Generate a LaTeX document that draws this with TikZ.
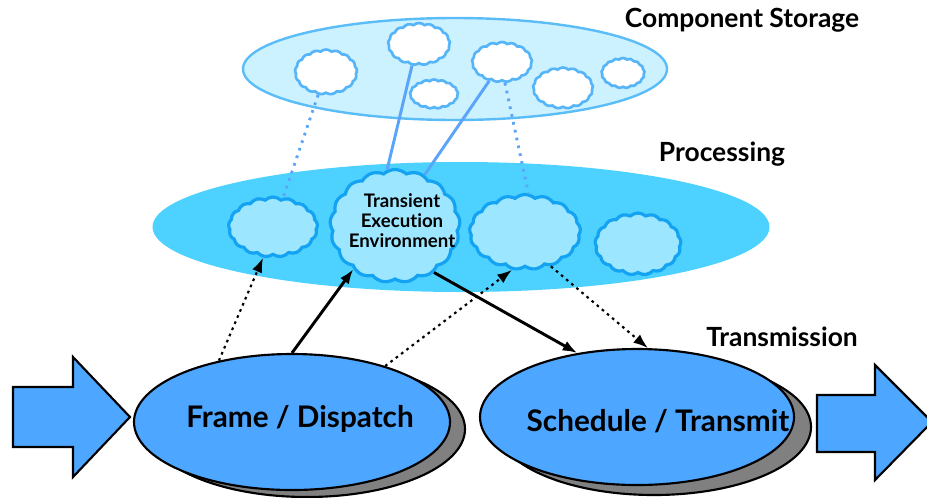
\documentclass[tikz,border=0pt]{standalone}
\usepackage{fontspec}
\setmainfont{Lato}[Ligatures={NoCommon}]
\usetikzlibrary{shapes.symbols,shapes.geometric,arrows.meta}
\definecolor{storfill}{HTML}{CCF1FF}
\definecolor{storline}{HTML}{5BBDF7}
\definecolor{sclline}{HTML}{55B5F8}
\definecolor{procfill}{HTML}{4DD2FF}
\definecolor{pclfill}{HTML}{9DE6FF}
\definecolor{pclline}{HTML}{14A3F2}
\definecolor{linkblue}{HTML}{5AA5FA}
\definecolor{bigfill}{HTML}{4DA6FF}
\definecolor{shadowgray}{HTML}{808080}
\tikzset{
  cloudbase/.style={cloud, cloud puffs=17, cloud puff arc=85, cloud ignores aspect, inner sep=0pt},
  scloud/.style={cloudbase, draw=sclline, fill=white, line width=2pt},
  pcloud/.style={cloudbase, draw=pclline, fill=pclfill, line width=2.4pt},
  bigell/.style={ellipse, draw=black, fill=bigfill, line width=1.6pt, inner sep=0pt},
  shadowell/.style={ellipse, draw=black, fill=shadowgray, line width=1.6pt, inner sep=0pt},
  blockarrow/.style={draw=black, fill=bigfill, line width=1.6pt, line join=miter},
  layerlabel/.style={font=\bfseries\fontsize{19.8}{22}\selectfont, inner sep=0pt},
  bigtext/.style={font=\bfseries\fontsize{22.3}{25}\selectfont},
  solidarrow/.style={draw=black, line width=2.2pt, -{Latex[length=11pt,width=8pt]}},
  dotarrow/.style={draw=black, line width=1.6pt, dash pattern=on 2pt off 3pt, -{Latex[length=11pt,width=8pt]}},
  bluesolid/.style={draw=linkblue, line width=2.2pt},
  bluedot/.style={draw=linkblue, line width=2.2pt, dash pattern=on 2pt off 4pt},
}
\begin{document}
\begin{tikzpicture}[x=0.75pt,y=-0.75pt]
\useasboundingbox (0,0) rectangle (927,497);
\clip (0,0) rectangle (927,497);
% storage layer
\node[ellipse, draw=storline, fill=storfill, line width=1.8pt, minimum width=318pt, minimum height=76.5pt, inner sep=0pt] (storage) at (455,69) {};
\node[layerlabel] (lstorage) at (742,20) {Component Storage};
\node[scloud, minimum width=46.5pt, minimum height=33.75pt] (sc1) at (326,72) {};
\node[scloud, minimum width=46.5pt, minimum height=31.5pt] (sc2) at (419,44) {};
\node[scloud, minimum width=36pt, minimum height=21.75pt] (sc3) at (434,94) {};
\node[scloud, minimum width=45pt, minimum height=30pt] (sc4) at (502,62) {};
\node[scloud, minimum width=45pt, minimum height=30.75pt] (sc5) at (563,88) {};
\node[scloud, minimum width=32.25pt, minimum height=22.5pt] (sc6) at (623,73) {};
% processing layer
\node[ellipse, fill=procfill, minimum width=462.75pt, minimum height=97.5pt, inner sep=0pt] (proc) at (461,227) {};
\node[layerlabel] (lproc) at (722,154) {Processing};
\node[pcloud, minimum width=66.75pt, minimum height=45pt] (pc1) at (273,227) {};
\node[pcloud, minimum width=97.5pt, minimum height=84.75pt] (tee) at (395,226) {};
\node[align=center, font=\bfseries\fontsize{14}{15}\selectfont, inner sep=0pt] (teetext) at (402,221) {Transient\\Execu\kern0pt tion\\Environment};
\node[pcloud, minimum width=83.25pt, minimum height=56.25pt] (pc3) at (525,232) {};
\node[pcloud, minimum width=64.5pt, minimum height=46.5pt] (pc4) at (638,244) {};
% blue links
\draw[bluedot] (sc1.251) -- (pc1.71);
\draw[bluesolid] (sc2.252) -- (tee.98);
\draw[bluesolid] (sc4.236) -- (tee.60);
\draw[bluedot] (sc4.278) -- (pc3.85);
% transmission layer
\node[layerlabel] (ltrans) at (782,337) {Transmission};
\node[shadowell, minimum width=237pt, minimum height=102pt] (fdshadow) at (307,429) {};
\node[bigell, minimum width=237pt, minimum height=102pt] (fd) at (292,422) {};
\node[bigtext] (fdtext) at (300,419) {Frame / Dispatch};
\node[shadowell, minimum width=235.5pt, minimum height=102pt] (stshadow) at (654,427) {};
\node[bigell, minimum width=235.5pt, minimum height=102pt] (st) at (637,417) {};
\node[bigtext] (sttext) at (658,421) {Schedule / Transmit};
% block arrows
\draw[blockarrow] (13,387) -- (73,387) -- (73,357) -- (130,417) -- (73,477) -- (73,447) -- (13,447) -- cycle;
\draw[blockarrow] (817,395) -- (875,395) -- (875,365) -- (932,422) -- (875,480) -- (875,452) -- (817,452) -- cycle;
% flows
\draw[dotarrow] (fd.140) -- (pc1.252);
\draw[solidarrow] (fd.90) -- (tee.226);
\draw[dotarrow] (fd.31) -- (pc3.251);
\draw[solidarrow] (tee.310) -- (st.133);
\draw[dotarrow] (pc3.307) -- (st.81);
\end{tikzpicture}
\end{document}
